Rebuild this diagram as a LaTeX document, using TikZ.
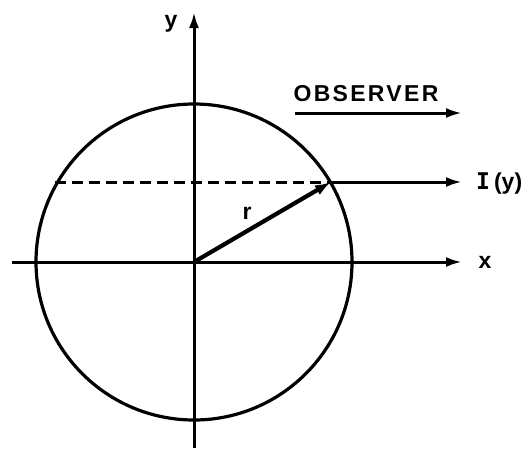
\documentclass[tikz,border=0pt]{standalone}
\usepackage{fontspec}
\setmainfont{Liberation Sans}
\newfontfamily\monob{DejaVu Sans Mono}
\usetikzlibrary{arrows.meta}
\begin{document}
\begin{tikzpicture}[x=1pt,y=-1pt,
  axis/.style={line width=3pt,-{Latex[length=16pt,width=10pt]}},
  plain/.style={line width=3.2pt},
  lbl/.style={font=\fontsize{23}{23}\selectfont\bfseries,inner sep=0pt},
  dashline/.style={line width=3pt,dash pattern=on 11pt off 6pt}]
\useasboundingbox (0,0) rectangle (529,450);
\coordinate (O) at (194,262);
\coordinate (xl) at (12,262);
\coordinate (xr) at (462,262);
\coordinate (yb) at (194,448);
\coordinate (yt) at (194,12);
\coordinate (P) at (331,182);
\coordinate (dl) at (55,182);
\coordinate (ir) at (462,182);
\coordinate (ol) at (295,113);
\coordinate (or) at (462,113);
\draw[plain] (O) circle[radius=158];
\draw[axis] (xl) -- (xr);
\draw[axis] (yb) -- (yt);
\draw[dashline] (dl) -- (P);
\draw[axis] (P) -- (ir);
\draw[line width=4.2pt,-{Latex[length=16pt,width=11pt]}] (O) -- (P);
\draw[axis] (ol) -- (or);
\node[lbl] (ylab) at (171,24) {y};
\node[lbl] (xlab) at (485,262) {x};
\node[lbl,anchor=west] (ilab) at (476,183) {{\monob\bfseries I}\hspace{4pt}(y)};
\node[lbl] (obs) at (366,94) {\addfontfeature{LetterSpace=10}OBSERVER};
\node[lbl] (rlab) at (247,213) {r};
\end{tikzpicture}
\end{document}
